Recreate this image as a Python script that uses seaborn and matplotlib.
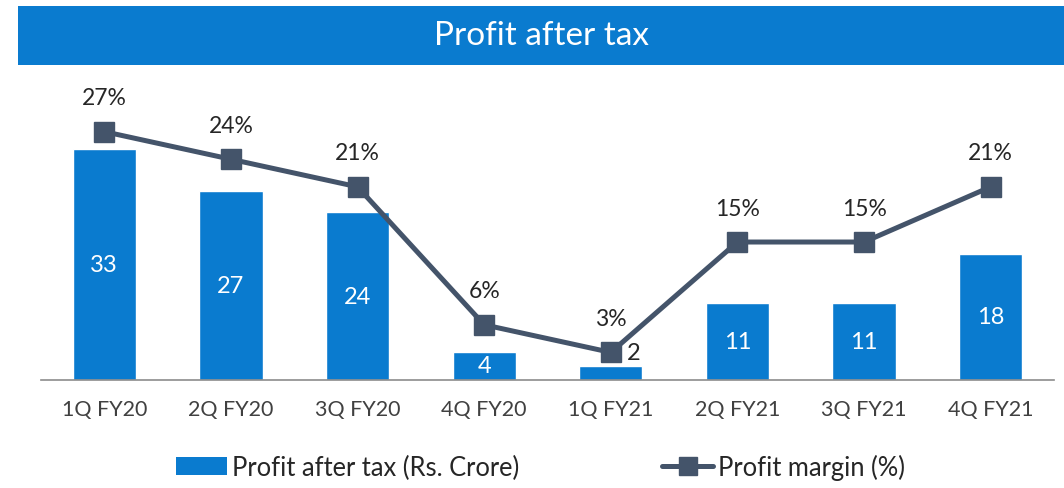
"""Profit after tax (bars) with profit margin line on a twin axis."""
import matplotlib
matplotlib.use('Agg')
import matplotlib.pyplot as plt
from matplotlib.patches import Rectangle, Patch
from matplotlib.lines import Line2D
import numpy as np
import seaborn as sns

# data
quarters = ['1Q FY20', '2Q FY20', '3Q FY20', '4Q FY20',
            '1Q FY21', '2Q FY21', '3Q FY21', '4Q FY21']
profit = [33, 27, 24, 4, 2, 11, 11, 18]          # Rs. Crore
margin = [27, 24, 21, 6, 3, 15, 15, 21]          # %

bar_blue = '#0A7BCF'
line_grey = '#44546A'
text_dark = '#262626'

sns.set_style('white')
plt.rcParams['font.family'] = ['Lato', 'DejaVu Sans']

fig = plt.figure(figsize=(10.64, 4.89), dpi=100)
ax = fig.add_axes([0.0385, 0.2209, 0.9521, 0.644])

pos = np.arange(len(quarters))
sns.barplot(x=pos, y=profit, color=bar_blue, width=0.5, saturation=1,
            ax=ax, native_scale=True)
ax.set_xlim(-0.5, len(quarters) - 0.5)
ax.set_ylim(0, 45)

# bar labels: white inside, except the tiny one which sits beside the marker
for i, v in enumerate(profit):
    if v < 3:
        ax.annotate(f'{v}', (pos[i], v), xytext=(23, 13), textcoords='offset pixels',
                    ha='center', va='center', fontsize=17, color=text_dark)
    else:
        ax.text(pos[i], v / 2, f'{v}', ha='center', va='center',
                fontsize=17, color='white')

# margin line on the secondary axis
ax2 = ax.twinx()
ax2.plot(pos, margin, color=line_grey, lw=3.6, marker='s', markersize=14,
         markerfacecolor=line_grey, markeredgecolor=line_grey)
ax2.set_ylim(0, 45 * 7 / 9.2)
for i, m in enumerate(margin):
    ax2.annotate(f'{m}%', (pos[i], m), xytext=(0, 34), textcoords='offset pixels',
                 ha='center', va='center', fontsize=16.5, color=text_dark)

# axes styling
for a in (ax, ax2):
    for side in ('top', 'right', 'left'):
        a.spines[side].set_visible(False)
    a.set_yticks([])
ax.spines['bottom'].set_color('#8C8C8C')
ax.spines['bottom'].set_linewidth(1.2)
ax2.spines['bottom'].set_visible(False)
ax.set_xticks(pos)
ax.set_xticklabels(quarters, fontsize=15.5, color='#404040')
ax.tick_params(axis='x', which='major', length=0, pad=14)
ax.set_xticks(np.arange(-0.5, len(quarters)), minor=True)
ax.tick_params(axis='x', which='minor', length=5, width=1.2, color='#8C8C8C')
ax.set_xlabel('')

# title banner
fig.patches.append(Rectangle((0.0169, 0.865), 0.99, 0.1208, transform=fig.transFigure,
                             facecolor=bar_blue, edgecolor='none', zorder=0))
fig.text(0.509, 0.926, 'Profit after tax', ha='center', va='center',
         fontsize=24, color='white')

# legend
handles = [Patch(facecolor=bar_blue, edgecolor='none'),
           Line2D([], [], color=line_grey, lw=3.6, marker='s', markersize=13)]
fig.legend(handles, ['Profit after tax (Rs. Crore)', 'Profit margin (%)'],
           loc='center', bbox_to_anchor=(0.508, 0.043), ncol=2, frameon=False,
           fontsize=18.4, handlelength=2.0, handletextpad=0.2, columnspacing=5.6,
           labelcolor=text_dark)

fig.savefig('out.png', dpi=100)
